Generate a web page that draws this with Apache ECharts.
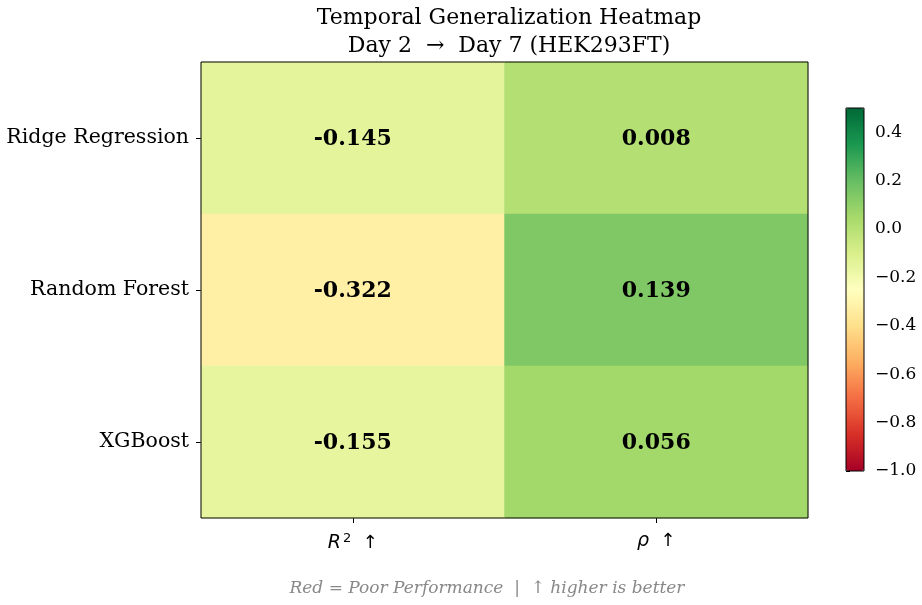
<!DOCTYPE html>
<html>
<head>
<meta charset="utf-8">
<script src="https://cdn.jsdelivr.net/npm/echarts@6/dist/echarts.min.js"></script>
<style>
  html, body { margin: 0; padding: 0; background: #fff; }
  #main { width: 922px; height: 605px; }
</style>
</head>
<body>
<div id="main"></div>
<script>
// data
const models = ["Ridge Regression", "Random Forest", "XGBoost"];
const metrics = ["R2", "rho"];
const r2Values = [-0.145, -0.322, -0.155];
const rhoValues = [0.008, 0.139, 0.056];
const colorTicks = [-1.0, -0.8, -0.6, -0.4, -0.2, 0.0, 0.2, 0.4];

// RdYlGn
const rdylgn = ["#a50026", "#d73027", "#f46d43", "#fdae61", "#fee08b", "#ffffbf",
  "#d9ef8b", "#a6d96a", "#66bd63", "#1a9850", "#006837"];

const cells = [];
models.forEach((m, i) => {
  cells.push([0, i, r2Values[i]]);
  cells.push([1, i, rhoValues[i]]);
});

const serif = "DejaVu Serif";
const chart = echarts.init(document.getElementById("main"));

const option = {
  animation: false,
  backgroundColor: "#fff",
  title: [
    {
      text: "Temporal Generalization Heatmap\nDay 2  \u2192  Day 7 (HEK293FT)",
      left: 504, top: -1, textAlign: "center",
      textStyle: { fontFamily: serif, fontWeight: "normal", fontSize: 22, lineHeight: 28, color: "#000" }
    },
    {
      text: "Red = Poor Performance  |  \u2191 higher is better",
      left: 482, top: 575, textAlign: "center",
      textStyle: { fontFamily: serif, fontStyle: "italic", fontWeight: "normal", fontSize: 17, color: "#888" }
    }
  ],
  grid: [
    { left: 201, top: 62, width: 607, height: 456, show: true, borderColor: "#000", borderWidth: 1, backgroundColor: "transparent", z: 10 },
    { left: 846, top: 108, width: 18, height: 363, show: true, borderColor: "#000", borderWidth: 1, backgroundColor: "transparent", z: 10 }
  ],
  xAxis: [
    {
      gridIndex: 0, type: "category", data: metrics,
      axisLine: { show: false },
      axisTick: { show: true, alignWithLabel: true, length: 5, lineStyle: { color: "#000" } },
      splitLine: { show: false },
      axisLabel: {
        margin: 14,
        formatter: v => v === "R2" ? "{i|R}{s|2}{t|  \u2191}" : "{i|\u03c1}{t|  \u2191}",
        rich: {
          i: { fontFamily: "DejaVu Sans", fontStyle: "italic", fontSize: 19, color: "#000" },
          s: { fontFamily: "DejaVu Sans", fontSize: 13, color: "#000", padding: [0, 0, 10, 2] },
          t: { fontFamily: "DejaVu Sans", fontSize: 18, color: "#000" }
        }
      }
    },
    { gridIndex: 1, type: "value", show: false, min: 0, max: 1 }
  ],
  yAxis: [
    {
      gridIndex: 0, type: "category", data: models, inverse: true,
      axisLine: { show: false },
      axisTick: { show: true, alignWithLabel: true, length: 5, lineStyle: { color: "#000" } },
      splitLine: { show: false },
      axisLabel: { fontFamily: serif, fontSize: 20.5, color: "#000", margin: 12, padding: [2, 0, 0, 0] }
    },
    {
      gridIndex: 1, type: "value", position: "right", min: -1, max: 0.5, interval: 0.2,
      axisLine: { show: false },
      splitLine: { show: false },
      axisTick: { show: true, length: 4, lineStyle: { color: "#000" } },
      axisLabel: {
        showMaxLabel: false, margin: 11,
        fontFamily: serif, fontSize: 17, color: "#000",
        formatter: v => colorTicks.some(t => Math.abs(t - v) < 1e-6) ? v.toFixed(1).replace("-", "\u2212") : ""
      }
    }
  ],
  visualMap: {
    type: "continuous",
    seriesIndex: 0, dimension: 2,
    min: -1, max: 0.5,
    calculable: false,
    orient: "vertical",
    left: 846, top: 108,
    itemWidth: 18, itemHeight: 363,
    padding: 0,
    text: null,
    inRange: { color: rdylgn }
  },
  series: [
    {
      type: "heatmap",
      xAxisIndex: 0, yAxisIndex: 0,
      data: cells,
      label: {
        show: true,
        offset: [0, 1],
        formatter: p => p.value[2].toFixed(3),
        fontFamily: serif, fontWeight: "bold", fontSize: 22, color: "#000"
      },
      itemStyle: { borderWidth: 0 },
      emphasis: { disabled: true }
    }
  ]
};

chart.setOption(option);
</script>
</body>
</html>
